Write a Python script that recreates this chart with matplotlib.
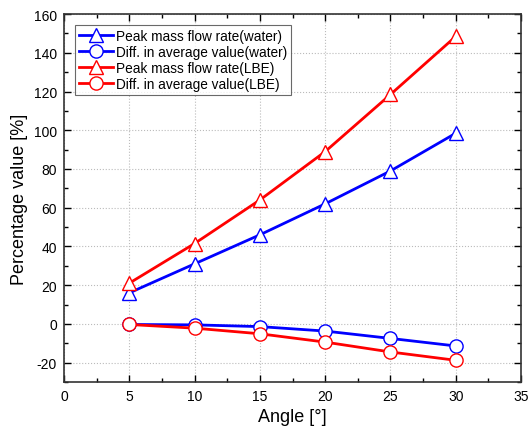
import matplotlib
matplotlib.use("Agg")
import matplotlib.pyplot as plt
from matplotlib.ticker import MultipleLocator

plt.rcParams['font.family'] = ['Liberation Sans', 'DejaVu Sans']
plt.rcParams['axes.unicode_minus'] = False

angles = [5, 10, 15, 20, 25, 30]
peak_water = [16, 31, 46, 62, 79, 98.5]
diff_water = [-0.3, -0.5, -1.4, -3.7, -7.5, -11.4]
peak_lbe = [21, 41.5, 64, 89, 118.5, 148.5]
diff_lbe = [-0.3, -2.2, -5.1, -9.4, -14.5, -18.8]

fig = plt.figure(figsize=(5.28, 4.39), dpi=100)
ax = fig.add_axes([0.121, 0.1276, 0.866, 0.838])

kw = dict(lw=2, ms=9.5, mfc='white', mew=1.0)
ax.plot(angles, peak_water, '-^', color='#0000ff', label='Peak mass flow rate(water)', **kw)
ax.plot(angles, diff_water, '-o', color='#0000ff', label='Diff. in average value(water)', **kw)
ax.plot(angles, peak_lbe, '-^', color='#ff0000', label='Peak mass flow rate(LBE)', **kw)
ax.plot(angles, diff_lbe, '-o', color='#ff0000', label='Diff. in average value(LBE)', **kw)

ax.set_xlim(0, 35)
ax.set_ylim(-30, 160)
ax.xaxis.set_major_locator(MultipleLocator(5))
ax.xaxis.set_minor_locator(MultipleLocator(2.5))
ax.yaxis.set_major_locator(MultipleLocator(20))
ax.yaxis.set_minor_locator(MultipleLocator(10))
ax.tick_params(which='both', direction='in', top=True, right=True, labelsize=10, pad=5)
ax.tick_params(which='major', length=5, width=1)
ax.tick_params(which='minor', length=3, width=1)
for s in ax.spines.values():
    s.set_linewidth(1.2)
    s.set_color('#333333')
ax.grid(True, which='major', ls=':', color='#bbbbbb', lw=0.8)
ax.set_xlabel('Angle [°]', fontsize=13)
ax.set_ylabel('Percentage value [%]', fontsize=13)

leg = ax.legend(loc='upper left', fontsize=9.8, frameon=True, fancybox=False,
                edgecolor='#444444', borderpad=0.3, labelspacing=0.15,
                handlelength=2.5, handletextpad=0.2, borderaxespad=0.8)
leg.get_frame().set_linewidth(0.8)

fig.savefig('out.png', dpi=100)
